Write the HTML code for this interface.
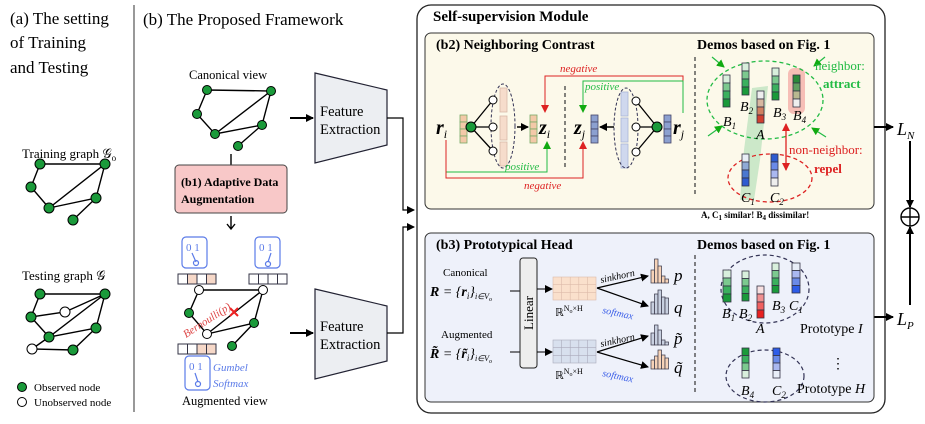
<!DOCTYPE html>
<html><head><meta charset="utf-8"><style>body{margin:0;background:#fff}svg{display:block}text{font-family:"Liberation Serif",serif}</style></head><body>
<svg width="925" height="424" viewBox="0 0 925 424" xmlns="http://www.w3.org/2000/svg">
<defs>
<marker id="ak" markerWidth="8" markerHeight="8" refX="7" refY="4" orient="auto" markerUnits="userSpaceOnUse"><path d="M0,0L8,4L0,8z" fill="#000"/></marker>
<marker id="ar" markerWidth="8" markerHeight="8" refX="7" refY="4" orient="auto" markerUnits="userSpaceOnUse"><path d="M0,0L8,4L0,8z" fill="#d22"/></marker>
<marker id="ag" markerWidth="8" markerHeight="8" refX="7" refY="4" orient="auto" markerUnits="userSpaceOnUse"><path d="M0,0L8,4L0,8z" fill="#1a1"/></marker>
<marker id="ars" markerWidth="8" markerHeight="8" refX="1" refY="4" orient="auto" markerUnits="userSpaceOnUse"><path d="M8,0L0,4L8,8z" fill="#d22"/></marker>
</defs>
<!-- (a) -->
<g font-size="17"><text x="10" y="24">(a) The setting</text><text x="10" y="48">of Training</text><text x="10" y="73">and Testing</text></g>
<line x1="134" y1="5" x2="134" y2="412" stroke="#555" stroke-width="1.2"/>
<text x="22" y="158" font-size="13">Training graph 𝒢<tspan font-size="9" dy="3">o</tspan></text>
<g stroke="#000" stroke-width="1.4" fill="none"><path d="M40,164L105,164M40,164L31,187L49,208L105,164L96,198L49,208M96,198L73,220"/></g>
<g fill="#1a9a3a" stroke="#000" stroke-width="1"><circle cx="40" cy="164" r="5"/><circle cx="105" cy="164" r="5"/><circle cx="31" cy="187" r="5"/><circle cx="49" cy="208" r="5"/><circle cx="96" cy="198" r="5"/><circle cx="73" cy="220" r="5"/></g>
<text x="22" y="280" font-size="13">Testing graph 𝒢</text>
<g stroke="#000" stroke-width="1.4" fill="none"><path d="M40,294L105,294M40,294L31,317L65,312L105,294M31,317L49,337L105,294L96,328L49,337M96,328L73,350L32,349L49,337"/></g>
<g fill="#1a9a3a" stroke="#000" stroke-width="1"><circle cx="40" cy="294" r="5"/><circle cx="105" cy="294" r="5"/><circle cx="31" cy="317" r="5"/><circle cx="49" cy="337" r="5"/><circle cx="96" cy="328" r="5"/><circle cx="73" cy="350" r="5"/><circle cx="65" cy="312" r="5" fill="#fff"/><circle cx="32" cy="349" r="5" fill="#fff"/></g>
<circle cx="22" cy="387" r="4.5" fill="#1a9a3a" stroke="#000"/><text x="34" y="391" font-size="11">Observed node</text>
<circle cx="22" cy="402" r="4.5" fill="#fff" stroke="#000"/><text x="34" y="406" font-size="11">Unobserved node</text>
<!-- (b) -->
<text x="143" y="25" font-size="17">(b) The Proposed Framework</text>
<text x="189" y="79" font-size="12.5" font-family="Liberation Sans,sans-serif">Canonical view</text>
<g stroke="#000" stroke-width="1.4" fill="none"><path d="M207,90L271,91L262,125L215,134L197,114L207,90M271,91L215,134M262,125L238,146"/></g>
<g fill="#1a9a3a" stroke="#000"><circle cx="207" cy="90" r="4.5"/><circle cx="271" cy="91" r="4.5"/><circle cx="197" cy="114" r="4.5"/><circle cx="215" cy="134" r="4.5"/><circle cx="262" cy="125" r="4.5"/><circle cx="238" cy="146" r="4.5"/></g>
<line x1="231" y1="154" x2="231" y2="165" stroke="#000" stroke-width="1.4"/>
<rect x="175" y="165" width="112" height="48" rx="4" fill="#f8c8c8" stroke="#444"/>
<text x="181" y="186" font-size="12" font-weight="bold">(b1) Adaptive Data</text><text x="181" y="203" font-size="12" font-weight="bold">Augmentation</text>
<path d="M231,216L231,228M227,224L231,229L235,224" stroke="#000" stroke-width="1.4" fill="none"/>
<g stroke="#5b7be8" fill="none" stroke-width="1.2"><rect x="182" y="237" width="25" height="31" rx="4"/><rect x="255" y="237" width="25" height="31" rx="4"/><rect x="185" y="356" width="25" height="34" rx="4"/>
<path d="M192,253L196,262M271,253L268,262M195,373L198,382"/><circle cx="196" cy="263" r="2.5"/><circle cx="268" cy="264" r="2.5"/><circle cx="198" cy="384" r="2.5"/></g>
<g font-size="11" fill="#5b7be8" font-family="Liberation Sans,sans-serif"><text x="186" y="251">0 1</text><text x="259" y="251">0 1</text><text x="189" y="370">0 1</text></g>
<g stroke="#334" fill="#fff" stroke-width="1"><rect x="178" y="274" width="9.5" height="10"/><rect x="187.5" y="274" width="9.5" height="10" fill="#f6d8c8"/><rect x="197" y="274" width="9.5" height="10"/><rect x="206.5" y="274" width="9.5" height="10" fill="#f6d8c8"/>
<rect x="249" y="274" width="9.5" height="10"/><rect x="258.5" y="274" width="9.5" height="10"/><rect x="268" y="274" width="9.5" height="10"/><rect x="277.5" y="274" width="9.5" height="10"/>
<rect x="178" y="344" width="9.5" height="10"/><rect x="187.5" y="344" width="9.5" height="10"/><rect x="197" y="344" width="9.5" height="10" fill="#f6d8c8"/><rect x="206.5" y="344" width="9.5" height="10" fill="#f6d8c8"/></g>
<g stroke="#000" stroke-width="1.4" fill="none"><path d="M199,290L263,290L254,323L207,334L189,313L199,290M263,290L207,334M254,323L232,346"/></g>
<path d="M230,308L238,316M238,308L230,316" stroke="#e22" stroke-width="2"/>
<g stroke="#000"><circle cx="199" cy="290" r="4.5" fill="#fff"/><circle cx="263" cy="290" r="4.5" fill="#fff"/><circle cx="189" cy="313" r="4.5" fill="#1a9a3a"/><circle cx="207" cy="334" r="4.5" fill="#fff"/><circle cx="254" cy="323" r="4.5" fill="#1a9a3a"/><circle cx="232" cy="346" r="4.5" fill="#1a9a3a"/></g>
<text x="186" y="338" font-size="11" fill="#d44" font-style="italic" transform="rotate(-33 186 338)">Bernoulli(p)</text>
<text x="213" y="371" font-size="11" fill="#5b7be8" font-style="italic">Gumbel</text><text x="213" y="387" font-size="11" fill="#5b7be8" font-style="italic">Softmax</text>
<text x="182" y="405" font-size="12.5" font-family="Liberation Sans,sans-serif">Augmented view</text>
<line x1="290" y1="118" x2="313" y2="118" stroke="#000" stroke-width="2" marker-end="url(#ak)"/>
<line x1="290" y1="333" x2="313" y2="333" stroke="#000" stroke-width="2" marker-end="url(#ak)"/>
<path d="M315,73L387,90L387,145L315,163z" fill="#eceef2" stroke="#223" stroke-width="1.2"/>
<path d="M315,289L387,306L387,361L315,379z" fill="#eceef2" stroke="#223" stroke-width="1.2"/>
<g font-size="14.5"><text x="320" y="116">Feature</text><text x="320" y="134">Extraction</text><text x="320" y="331">Feature</text><text x="320" y="349">Extraction</text></g>
<path d="M387,118H403V210H414" fill="none" stroke="#000" stroke-width="1.2" marker-end="url(#ak)"/>
<path d="M387,333H403V227H414" fill="none" stroke="#000" stroke-width="1.2" marker-end="url(#ak)"/>
<!-- module -->
<rect x="417" y="5" width="468" height="408" rx="14" fill="#fff" stroke="#222" stroke-width="1.3"/>
<text x="433" y="21" font-size="15" font-weight="bold">Self-supervision Module</text>
<rect x="425" y="33" width="449" height="176" rx="6" fill="#fcf9ea" stroke="#333"/>
<text x="436" y="49" font-size="14" font-weight="bold">(b2) Neighboring Contrast</text>
<text x="697" y="49" font-size="14" font-weight="bold">Demos based on Fig. 1</text>
<line x1="695" y1="57" x2="695" y2="197" stroke="#333" stroke-dasharray="4,3" stroke-width="1.2"/>
<line x1="565" y1="86" x2="565" y2="170" stroke="#333" stroke-dasharray="4,3" stroke-width="1.2"/>
<g font-size="20" font-weight="bold" font-style="italic"><text x="436" y="134">r<tspan font-size="12" font-weight="normal" dy="4">i</tspan></text><text x="539" y="134">z<tspan font-size="12" font-weight="normal" dy="4">i</tspan></text><text x="574" y="134">z<tspan font-size="12" font-weight="normal" dy="4">j</tspan></text><text x="673" y="134">r<tspan font-size="12" font-weight="normal" dy="4">j</tspan></text></g>
<g stroke="#7a6" stroke-width="0.8" fill="#f3c9a8"><rect x="460" y="115" width="7" height="7"/><rect x="460" y="122" width="7" height="7"/><rect x="460" y="129" width="7" height="7"/><rect x="460" y="136" width="7" height="7"/>
<rect x="530" y="115" width="7" height="7"/><rect x="530" y="122" width="7" height="7"/><rect x="530" y="129" width="7" height="7"/><rect x="530" y="136" width="7" height="7"/></g>
<g stroke="#d8b8a8" stroke-width="0.8" fill="#f6dccb"><rect x="500" y="88" width="7" height="24"/><rect x="500" y="116" width="7" height="24"/><rect x="500" y="142" width="7" height="24"/></g>
<g stroke="#446" stroke-width="0.8" fill="#8ca0d0"><rect x="591" y="115" width="7" height="7"/><rect x="591" y="122" width="7" height="7"/><rect x="591" y="129" width="7" height="7"/><rect x="591" y="136" width="7" height="7"/>
<rect x="664" y="115" width="7" height="7"/><rect x="664" y="122" width="7" height="7"/><rect x="664" y="129" width="7" height="7"/><rect x="664" y="136" width="7" height="7"/></g>
<g stroke="#a8b4d8" stroke-width="0.8" fill="#cfd8ee"><rect x="621" y="92" width="7" height="24"/><rect x="621" y="118" width="7" height="24"/><rect x="621" y="144" width="7" height="24"/></g>
<ellipse cx="503" cy="126" rx="12" ry="42" fill="none" stroke="#335" stroke-dasharray="3,2"/>
<ellipse cx="626" cy="128" rx="12" ry="40" fill="none" stroke="#335" stroke-dasharray="3,2"/>
<g stroke="#000" stroke-width="1.3" fill="none"><path d="M471,127L493,100M471,127L493,127M471,127L493,151M657,127L636,101M657,127L636,127M657,127L636,152"/></g>
<g stroke="#000" fill="#fff"><circle cx="493" cy="100" r="4"/><circle cx="493" cy="127" r="4"/><circle cx="493" cy="151" r="4"/><circle cx="636" cy="101" r="4"/><circle cx="636" cy="127" r="4"/><circle cx="636" cy="152" r="4"/><circle cx="471" cy="127" r="5" fill="#1a9a3a"/><circle cx="657" cy="127" r="5" fill="#1a9a3a"/></g>
<line x1="517" y1="127" x2="528" y2="127" stroke="#000" stroke-width="1.5" marker-end="url(#ak)"/>
<line x1="614" y1="127" x2="600" y2="127" stroke="#000" stroke-width="1.5" marker-end="url(#ak)"/>
<path d="M683,113V76H545V112" fill="none" stroke="#d22" marker-end="url(#ar)"/>
<path d="M683,113V81H583V112" fill="none" stroke="#2b4" marker-end="url(#ag)"/>
<path d="M446,140V172H547V142" fill="none" stroke="#2b4" marker-end="url(#ag)"/>
<path d="M446,140V178H583V142" fill="none" stroke="#d22" marker-end="url(#ar)"/>
<g font-size="11" font-style="italic"><text x="560" y="72" fill="#d22">negative</text><text x="585" y="90" fill="#2b4">positive</text><text x="505" y="170" fill="#2b4">positive</text><text x="524" y="189" fill="#d22">negative</text></g>
<!-- demos b2 -->
<path d="M752,88L768,86L760,160L754,200L740,200L744,150z" fill="#bfe3c0" opacity="0.8"/>
<rect x="788" y="68" width="17" height="46" rx="6" fill="#f5b7b0" opacity="0.9"/>
<ellipse cx="765" cy="100" rx="58" ry="39" fill="none" stroke="#2b4" stroke-dasharray="4,3" stroke-width="1.3"/>
<ellipse cx="770" cy="178" rx="42" ry="24" fill="none" stroke="#d22" stroke-dasharray="4,3" stroke-width="1.3"/>
<g stroke="#334" stroke-width="0.8">
<rect x="723" y="75" width="7" height="8" fill="#d8efdc"/><rect x="723" y="83" width="7" height="8" fill="#7cc98f"/><rect x="723" y="91" width="7" height="8" fill="#3bb05e"/><rect x="723" y="99" width="7" height="8" fill="#1a9a3a"/>
<rect x="742" y="63" width="7" height="8" fill="#d8efdc"/><rect x="742" y="71" width="7" height="8" fill="#7cc98f"/><rect x="742" y="79" width="7" height="8" fill="#3bb05e"/><rect x="742" y="87" width="7" height="8" fill="#1a9a3a"/>
<rect x="757" y="91" width="7" height="8" fill="#eee"/><rect x="757" y="99" width="7" height="8" fill="#d7b8a0"/><rect x="757" y="107" width="7" height="8" fill="#d08060"/><rect x="757" y="115" width="7" height="8" fill="#d04030"/>
<rect x="772" y="68" width="7" height="8" fill="#d8efdc"/><rect x="772" y="76" width="7" height="8" fill="#7cc98f"/><rect x="772" y="84" width="7" height="8" fill="#3bb05e"/><rect x="772" y="92" width="7" height="8" fill="#1a9a3a"/>
<rect x="793" y="75" width="7" height="8" fill="#2a8a3a"/><rect x="793" y="83" width="7" height="8" fill="#60a060"/><rect x="793" y="91" width="7" height="8" fill="#b8b890"/><rect x="793" y="99" width="7" height="8" fill="#eee"/>
<rect x="742" y="154" width="7" height="8" fill="#e8eef6"/><rect x="742" y="162" width="7" height="8" fill="#8faad6"/><rect x="742" y="170" width="7" height="8" fill="#4a78d0"/><rect x="742" y="178" width="7" height="8" fill="#2d5cd0"/>
<rect x="771" y="154" width="7" height="8" fill="#2d5cd0"/><rect x="771" y="162" width="7" height="8" fill="#6a8ae8"/><rect x="771" y="170" width="7" height="8" fill="#aab8f0"/><rect x="771" y="178" width="7" height="8" fill="#eee"/></g>
<g font-size="14" font-style="italic"><text x="723" y="126">B<tspan font-size="9" dy="3">1</tspan></text><text x="740" y="111">B<tspan font-size="9" dy="3">2</tspan></text><text x="756" y="139">A</text><text x="773" y="117">B<tspan font-size="9" dy="3">3</tspan></text><text x="793" y="120">B<tspan font-size="9" dy="3">4</tspan></text><text x="741" y="202">C<tspan font-size="9" dy="3">1</tspan></text><text x="770" y="202">C<tspan font-size="9" dy="3">2</tspan></text></g>
<g stroke="#2b4" stroke-width="1.2" marker-end="url(#ag)"><line x1="712" y1="57" x2="724" y2="67"/><line x1="825" y1="57" x2="814" y2="66"/><line x1="708" y1="136" x2="722" y2="126"/><line x1="826" y1="137" x2="812" y2="128"/></g>
<line x1="786" y1="124" x2="786" y2="170" stroke="#d22" stroke-width="1.3" marker-end="url(#ar)" marker-start="url(#ars)"/>
<text x="815" y="70" font-size="13" fill="#2b4">neighbor:</text><text x="823" y="88" font-size="13" fill="#2b4" font-weight="bold">attract</text>
<text x="789" y="154" font-size="13" fill="#d22">non-neighbor:</text><text x="814" y="173" font-size="13" fill="#d22" font-weight="bold">repel</text>
<text x="701" y="218" font-size="9" font-weight="bold">A, C<tspan font-size="7" dy="2">1</tspan><tspan dy="-2"> similar!   B</tspan><tspan font-size="7" dy="2">4</tspan><tspan dy="-2"> dissimilar!</tspan></text>
<!-- losses -->
<line x1="874" y1="127" x2="893" y2="127" stroke="#000" stroke-width="2" marker-end="url(#ak)"/>
<line x1="874" y1="317" x2="893" y2="317" stroke="#000" stroke-width="2" marker-end="url(#ak)"/>
<text x="897" y="135" font-size="18" font-style="italic">L<tspan font-size="11" dy="4">N</tspan></text>
<text x="897" y="325" font-size="18" font-style="italic">L<tspan font-size="11" dy="4">P</tspan></text>
<line x1="910" y1="141" x2="910" y2="207" stroke="#000" stroke-width="2" marker-end="url(#ak)"/>
<line x1="910" y1="305" x2="910" y2="227" stroke="#000" stroke-width="2" marker-end="url(#ak)"/>
<circle cx="910" cy="217" r="9" fill="#fff" stroke="#000" stroke-width="1.4"/><path d="M901,217H919M910,208V226" stroke="#000" stroke-width="1.4"/>
<!-- b3 -->
<rect x="425" y="233" width="449" height="169" rx="6" fill="#eef1fa" stroke="#333"/>
<text x="436" y="249" font-size="14" font-weight="bold">(b3) Prototypical Head</text>
<text x="697" y="249" font-size="14" font-weight="bold">Demos based on Fig. 1</text>
<line x1="695" y1="255" x2="695" y2="393" stroke="#333" stroke-dasharray="4,3" stroke-width="1.2"/>
<text x="443" y="276" font-size="11" font-family="Liberation Sans,sans-serif">Canonical</text>
<text x="430" y="296" font-size="14" font-style="italic"><tspan font-weight="bold">R</tspan> = {<tspan font-weight="bold">r</tspan><tspan font-size="9" dy="3">i</tspan><tspan dy="-3">}</tspan><tspan font-size="8" dy="3">i∈V</tspan><tspan font-size="6" dy="2">o</tspan></text>
<text x="441" y="338" font-size="11" font-family="Liberation Sans,sans-serif">Augmented</text>
<text x="430" y="358" font-size="14" font-style="italic"><tspan font-weight="bold">R̃</tspan> = {<tspan font-weight="bold">r̃</tspan><tspan font-size="9" dy="3">i</tspan><tspan dy="-3">}</tspan><tspan font-size="8" dy="3">i∈V</tspan><tspan font-size="6" dy="2">o</tspan></text>
<line x1="510" y1="291" x2="520" y2="291" stroke="#000"/><line x1="510" y1="352" x2="520" y2="352" stroke="#000"/>
<rect x="520" y="258" width="17" height="110" rx="3" fill="#eee" stroke="#222"/>
<text x="533" y="313" font-size="13" transform="rotate(-90 533 313)" text-anchor="middle">Linear</text>
<line x1="537" y1="289" x2="552" y2="289" stroke="#000" marker-end="url(#ak)"/><line x1="537" y1="352" x2="552" y2="352" stroke="#000" marker-end="url(#ak)"/>
<g stroke="#dba" stroke-width="0.6"><rect x="553" y="277" width="43" height="23" fill="#fae0cc"/><path d="M561.6,277V300M570.2,277V300M578.8,277V300M587.4,277V300M553,284.7H596M553,292.3H596"/></g>
<g stroke="#aab" stroke-width="0.6"><rect x="553" y="340" width="43" height="23" fill="#d8e0ee"/><path d="M561.6,340V363M570.2,340V363M578.8,340V363M587.4,340V363M553,347.7H596M553,355.3H596"/></g>
<text x="555" y="316" font-size="11">ℝ<tspan font-size="8" dy="-5">N</tspan><tspan font-size="6" dy="2">o</tspan><tspan font-size="8" dy="-2">×H</tspan></text>
<text x="555" y="379" font-size="11">ℝ<tspan font-size="8" dy="-5">N</tspan><tspan font-size="6" dy="2">o</tspan><tspan font-size="8" dy="-2">×H</tspan></text>
<g stroke="#000" stroke-width="1.2" marker-end="url(#ak)"><line x1="597" y1="288" x2="648" y2="276"/><line x1="597" y1="288" x2="648" y2="306"/><line x1="597" y1="352" x2="648" y2="336"/><line x1="597" y1="352" x2="648" y2="367"/></g>
<g font-size="10" font-style="italic"><text x="601" y="283" transform="rotate(-12 601 283)">sinkhorn</text><text x="602" y="313" fill="#3a5ee8" transform="rotate(12 602 313)">softmax</text><text x="601" y="347" transform="rotate(-12 601 347)">sinkhorn</text><text x="602" y="376" fill="#3a5ee8" transform="rotate(12 602 376)">softmax</text></g>
<g stroke="#334" stroke-width="0.7">
<g fill="#f6d3b8"><rect x="651" y="270" width="3.5" height="13"/><rect x="654.5" y="259" width="3.5" height="24"/><rect x="658" y="266" width="3.5" height="17"/><rect x="661.5" y="276" width="3.5" height="7"/><rect x="665" y="279" width="3.5" height="4"/></g>
<g fill="#c8d0e0"><rect x="651" y="302" width="3.5" height="12"/><rect x="654.5" y="294" width="3.5" height="20"/><rect x="658" y="290" width="3.5" height="24"/><rect x="661.5" y="297" width="3.5" height="17"/><rect x="665" y="298" width="3.5" height="16"/></g>
<g fill="#c8d0e0"><rect x="651" y="333" width="3.5" height="12"/><rect x="654.5" y="325" width="3.5" height="20"/><rect x="658" y="330" width="3.5" height="15"/><rect x="661.5" y="340" width="3.5" height="5"/><rect x="665" y="342" width="3.5" height="3"/></g>
<g fill="#f6d3b8"><rect x="651" y="360" width="3.5" height="9"/><rect x="654.5" y="356" width="3.5" height="13"/><rect x="658" y="350" width="3.5" height="19"/><rect x="661.5" y="355" width="3.5" height="14"/><rect x="665" y="358" width="3.5" height="11"/></g></g>
<g font-size="17" font-style="italic"><text x="674" y="281">p</text><text x="674" y="313">q</text><text x="674" y="344">p̃</text><text x="674" y="373">q̃</text></g>
<ellipse cx="765" cy="289" rx="44" ry="34" fill="none" stroke="#335" stroke-dasharray="4,3" stroke-width="1.2"/>
<ellipse cx="765" cy="376" rx="39" ry="26" fill="none" stroke="#335" stroke-dasharray="4,3" stroke-width="1.2"/>
<g stroke="#334" stroke-width="0.8">
<rect x="723" y="270" width="8" height="8" fill="#d8efdc"/><rect x="723" y="278" width="8" height="8" fill="#7cc98f"/><rect x="723" y="286" width="8" height="8" fill="#3bb05e"/><rect x="723" y="294" width="8" height="8" fill="#1a9a3a"/>
<rect x="742" y="271" width="7" height="7.5" fill="#d8efdc"/><rect x="742" y="278.5" width="7" height="7.5" fill="#7cc98f"/><rect x="742" y="286" width="7" height="7.5" fill="#3bb05e"/><rect x="742" y="293.5" width="7" height="7.5" fill="#1a9a3a"/>
<rect x="757" y="286" width="7" height="8" fill="#f8e0e0"/><rect x="757" y="294" width="7" height="8" fill="#f09090"/><rect x="757" y="302" width="7" height="8" fill="#f06060"/><rect x="757" y="310" width="7" height="8" fill="#e82020"/>
<rect x="772" y="263" width="7" height="7.5" fill="#d8efdc"/><rect x="772" y="270.5" width="7" height="7.5" fill="#7cc98f"/><rect x="772" y="278" width="7" height="7.5" fill="#3bb05e"/><rect x="772" y="285.5" width="7" height="7.5" fill="#1a9a3a"/>
<rect x="792" y="263" width="8" height="7.5" fill="#e8eef8"/><rect x="792" y="270.5" width="8" height="7.5" fill="#aab8f0"/><rect x="792" y="278" width="8" height="7.5" fill="#6a8ae8"/><rect x="792" y="285.5" width="8" height="7.5" fill="#2d5ce8"/>
<rect x="742" y="348" width="7" height="7.5" fill="#1a9a3a"/><rect x="742" y="355.5" width="7" height="7.5" fill="#3bb05e"/><rect x="742" y="363" width="7" height="7.5" fill="#7cc98f"/><rect x="742" y="370.5" width="7" height="7.5" fill="#d8efdc"/>
<rect x="773" y="348" width="7" height="7.5" fill="#2d5ce8"/><rect x="773" y="355.5" width="7" height="7.5" fill="#6a8ae8"/><rect x="773" y="363" width="7" height="7.5" fill="#aab8f0"/><rect x="773" y="370.5" width="7" height="7.5" fill="#e8eef8"/></g>
<g font-size="14" font-style="italic"><text x="722" y="318">B<tspan font-size="9" dy="3">1</tspan></text><text x="739" y="318">B<tspan font-size="9" dy="3">2</tspan></text><text x="756" y="333">A</text><text x="772" y="310">B<tspan font-size="9" dy="3">3</tspan></text><text x="789" y="310">C<tspan font-size="9" dy="3">1</tspan></text><text x="741" y="395">B<tspan font-size="9" dy="3">4</tspan></text><text x="772" y="395">C<tspan font-size="9" dy="3">2</tspan></text></g>
<text x="800" y="333" font-size="14">Prototype <tspan font-style="italic">I</tspan></text>
<text x="797" y="393" font-size="14">Prototype <tspan font-style="italic">H</tspan></text>
<text x="831" y="368" font-size="14">⋮</text>
</svg>
</body></html>
